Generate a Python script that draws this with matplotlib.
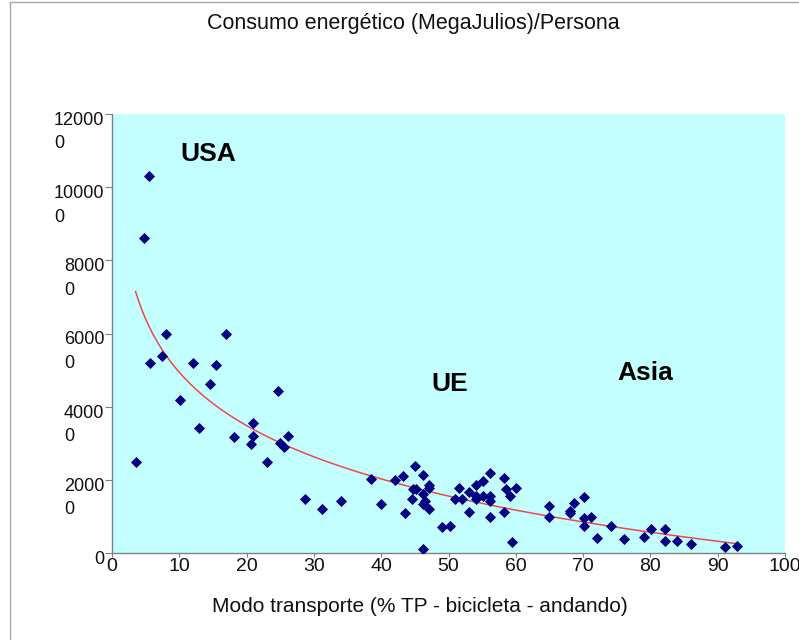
import numpy as np
import matplotlib.pyplot as plt
from matplotlib.lines import Line2D
from matplotlib.transforms import ScaledTranslation

plt.rcParams['font.family'] = ['Liberation Sans', 'DejaVu Sans']

# % transporte publico / bicicleta / andando
modo = [3.5, 4.7, 5.5, 5.6, 7.4, 8.0, 10.1, 12.1, 13.0, 14.5, 15.5, 17.0,
        18.1, 20.6, 21.0, 21.0, 23.1, 24.6, 25.0, 25.6, 26.1, 28.7, 31.2, 34.1,
        38.5, 40.0, 42.1, 43.2, 43.5, 44.6, 44.7, 45.0, 45.2, 46.2, 46.2, 46.2,
        46.5, 46.2, 47.1, 47.1, 47.1, 49.0, 50.2, 51.0, 51.5, 52.0, 53.0, 53.0,
        54.1, 54.1, 54.1, 55.1, 55.1, 56.1, 56.1, 56.1, 56.1, 58.2, 58.5, 58.2,
        59.1, 60.0, 59.5, 65.0, 65.0, 68.0, 68.0, 68.6, 70.1, 70.1, 70.1, 71.1,
        72.0, 74.1, 76.1, 79.0, 80.1, 82.2, 82.2, 84.0, 86.1, 91.1, 92.9]

# MJ / persona
consumo = [25000, 86000, 103000, 52000, 53900, 60000, 41900, 52000, 34200, 46300, 51400, 60000,
           31600, 29900, 32000, 35600, 24800, 44300, 30000, 29100, 32000, 14700, 12100, 14100,
           20300, 13300, 19900, 21000, 10900, 14700, 17500, 23900, 17400, 21200, 16100, 13400,
           14100, 1200, 18700, 17900, 12000, 7000, 7500, 14700, 17900, 14700, 16600, 11200,
           18700, 15700, 14700, 19800, 15700, 21900, 15700, 14100, 9800, 20600, 17500, 11200,
           15700, 17900, 2900, 12800, 9800, 11600, 11000, 13600, 15300, 9500, 7400, 9800,
           4100, 7500, 3800, 4500, 6500, 6600, 3400, 3400, 2500, 1700, 2000]

yticks = [0, 20000, 40000, 60000, 80000, 100000, 120000]
ytick_labels = ['0', '2000\n0', '4000\n0', '6000\n0', '8000\n0', '10000\n0', '12000\n0']
xticks = [0, 10, 20, 30, 40, 50, 60, 70, 80, 90, 100]

regiones = ['USA', 'UE', 'Asia']
regiones_pos = [(14.3, 109200), (50.2, 46200), (79.2, 49200)]

x = np.array(modo)
y = np.array(consumo)

# linea de tendencia logaritmica (como excel)
b, a = np.polyfit(np.log(x), y, 1)
xt = np.linspace(x.min(), x.max(), 200)
yt = a + b * np.log(xt)

fig = plt.figure(figsize=(7.99, 6.4), dpi=100)
ax = fig.add_axes([112/799, 1 - 553/640, (785 - 112)/799, (553 - 114)/640])
ax.set_facecolor('#c4ffff')

ax.plot(xt, yt, color='#f04848', lw=1.1, zorder=2)
ax.scatter(x, y, marker='D', s=32, color='#000080', zorder=3, linewidths=0)

for nombre, pos in zip(regiones, regiones_pos):
    ax.text(pos[0], pos[1], nombre, fontsize=19, fontweight='bold', ha='center', va='center')

ax.set_xlim(0, 100)
ax.set_ylim(0, 120000)
ax.set_xticks(xticks)
ax.set_yticks(yticks)
ax.set_yticklabels(ytick_labels, va='top', multialignment='left', linespacing=1.5)

ax.tick_params(axis='both', labelcolor='#111111', direction='out')
ax.tick_params(axis='x', labelsize=14, length=3, pad=0.5, color='#808080')
ax.tick_params(axis='y', labelsize=13, length=5, pad=0.5, color='#808080')

# primera linea de cada etiqueta centrada en la marca
subir = ScaledTranslation(0, 2/100, fig.dpi_scale_trans)
for lab in ax.get_yticklabels():
    lab.set_transform(lab.get_transform() + subir)

for s in ['top', 'right']:
    ax.spines[s].set_visible(False)
for s in ['left', 'bottom']:
    ax.spines[s].set_color('#808080')
    ax.spines[s].set_linewidth(1)

fig.text(413/799, 1 - 23/640, 'Consumo energético (MegaJulios)/Persona',
         fontsize=15.5, ha='center', va='center', color='#111111')
fig.text(420/799, 1 - 606/640, 'Modo transporte (% TP - bicicleta - andando)',
         fontsize=15, ha='center', va='center', color='#111111')

# marco de la diapositiva
fig.add_artist(Line2D([10/799, 10/799], [0, 1 - 2/640], transform=fig.transFigure, color='#a8a8a8', lw=1))
fig.add_artist(Line2D([10/799, 1], [1 - 2/640, 1 - 2/640], transform=fig.transFigure, color='#a8a8a8', lw=1))

fig.savefig('out.png', dpi=100)
